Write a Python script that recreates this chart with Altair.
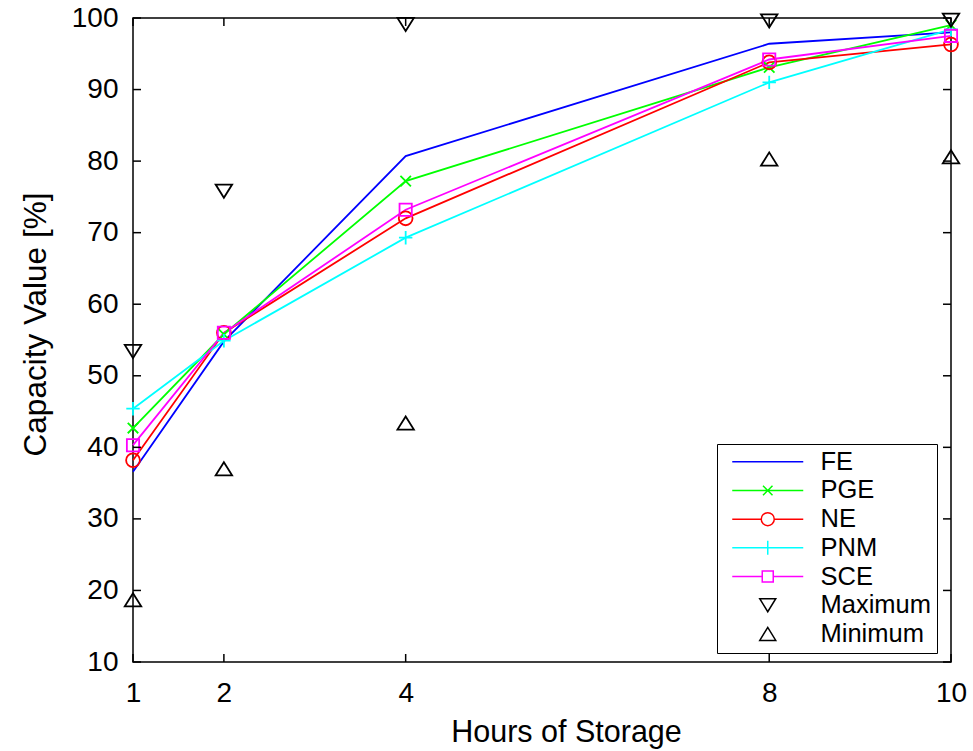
import altair as alt
import pandas as pd

# ---- data ----
hours = [1, 2, 4, 8, 10]
fe = [36.6, 54.8, 80.7, 96.4, 98.0]
pge = [42.7, 55.8, 77.2, 93.1, 99.0]
ne = [38.2, 56.0, 72.0, 93.8, 96.3]
pnm = [45.4, 54.9, 69.3, 91.0, 98.4]
sce = [40.3, 56.0, 73.2, 94.2, 97.5]
vmax = [53.4, 75.8, 99.1, 99.6, 99.7]
vmin = [18.7, 37.0, 43.4, 80.3, 80.6]

line_names = ["FE", "PGE", "NE", "PNM", "SCE"]
legend_names = line_names + ["Maximum", "Minimum"]
colors = ["#0000FF", "#00FF00", "#FF0000", "#00FFFF", "#FF00FF", "#000000", "#000000"]
x_ticks = [1, 2, 4, 8, 10]
y_ticks = [10, 20, 30, 40, 50, 60, 70, 80, 90, 100]

rows = []
for name, vals in zip(legend_names, [fe, pge, ne, pnm, sce, vmax, vmin]):
    for h, v in zip(hours, vals):
        rows.append({"hours": h, "value": v, "series": name})
df = pd.DataFrame(rows)
color_of = dict(zip(legend_names, colors))

W, H = 818, 644
FONT = "Liberation Sans"
LW = 1.8

xscale = alt.Scale(domain=[1, 10], nice=False, zero=False)
yscale = alt.Scale(domain=[10, 100], nice=False, zero=False)

x_axis = alt.Axis(values=x_ticks, title="Hours of Storage", grid=False, ticks=False,
                  domain=False, labelFontSize=28, labelPadding=17, labelFlush=False,
                  labelColor="black", titleColor="black", titleFontSize=30.5,
                  titleFontWeight="normal", titleX=433, titleY=79,
                  titleBaseline="alphabetic", format="d")
y_axis = alt.Axis(values=y_ticks, title="Capacity Value [%]", grid=False, ticks=False,
                  domain=False, labelFontSize=28, labelPadding=15, labelFlush=False,
                  labelColor="black", titleColor="black", titleFontSize=31.5,
                  titleFontWeight="normal", titleX=-88, titleY=306,
                  titleBaseline="alphabetic", format="d")

X = alt.X("hours:Q", scale=xscale, axis=x_axis)
Y = alt.Y("value:Q", scale=yscale, axis=y_axis)

base = alt.Chart(df)

lines = [
    base.transform_filter(alt.datum.series == name).mark_line(
        strokeWidth=LW, color=color_of[name]).encode(x=X, y=Y)
    for name in line_names
]

P_X = "M-1,-1L1,1M-1,1L1,-1"
P_PLUS = "M-1,0L1,0M0,-1L0,1"
P_DOWN = "M-1,-0.8L1,-0.8L0,0.8Z"
P_UP = "M-1,0.8L1,0.8L0,-0.8Z"


def marker(name, shape, size):
    return base.transform_filter(alt.datum.series == name).mark_point(
        shape=shape, size=size, filled=False, strokeWidth=LW, opacity=1,
        color=color_of[name]
    ).encode(x=X, y=Y)


markers = [
    marker("PGE", P_X, 110),
    marker("NE", "circle", 190),
    marker("PNM", P_PLUS, 180),
    marker("SCE", "square", 150),
    marker("Maximum", P_DOWN, 270),
    marker("Minimum", P_UP, 270),
]

# legend symbols: 1 path unit = 10 px (symbol size 400); line sample is 71 px long
legend_paths = [
    "M-3.55,0L3.55,0",
    "M-3.55,0L3.55,0M-0.475,-0.475L0.475,0.475M-0.475,0.475L0.475,-0.475",
    "M-3.55,0L-0.65,0A0.65,0.65,0,1,1,0.65,0A0.65,0.65,0,1,1,-0.65,0M0.65,0L3.55,0",
    "M-3.55,0L3.55,0M0,-0.7L0,0.7",
    "M-3.55,0L-0.55,0M0.55,0L3.55,0M-0.55,-0.55L0.55,-0.55L0.55,0.55L-0.55,0.55Z",
    "M-0.8,-0.65L0.8,-0.65L0,0.65Z",
    "M-0.8,0.65L0.8,0.65L0,-0.65Z",
]
SYM = 400
leg = dict(title=None, orient="none", legendX=584, legendY=426, symbolSize=SYM,
           symbolStrokeWidth=1.5, symbolOpacity=1, labelFontSize=25.5, labelFont=FONT,
           labelColor="black", padding=5, symbolOffset=33, labelOffset=40, rowPadding=1.7,
           strokeColor="black", fillColor="white", cornerRadius=0, labelLimit=0)

legend_layer = base.mark_point(opacity=0, filled=False, size=SYM, strokeWidth=1.5).encode(
    x=X, y=Y,
    color=alt.Color("series:N", scale=alt.Scale(domain=legend_names, range=colors),
                    legend=alt.Legend(**leg)),
    shape=alt.Shape("series:N", scale=alt.Scale(domain=legend_names, range=legend_paths),
                    legend=alt.Legend(**leg)),
)

# inward ticks on all four sides
ytdf = pd.DataFrame({"value": y_ticks})
xtdf = pd.DataFrame({"hours": x_ticks})
TL = 8
tick_style = dict(color="black", strokeWidth=1.5)
left_t = alt.Chart(ytdf).mark_rule(**tick_style).encode(
    y=Y, x=alt.value(0), x2=alt.value(TL))
right_t = alt.Chart(ytdf).mark_rule(**tick_style).encode(
    y=Y, x=alt.value(W - TL), x2=alt.value(W))
bottom_t = alt.Chart(xtdf).mark_rule(**tick_style).encode(
    x=X, y=alt.value(H - TL), y2=alt.value(H))
top_t = alt.Chart(xtdf).mark_rule(**tick_style).encode(
    x=X, y=alt.value(0), y2=alt.value(TL))

chart = alt.layer(
    *lines, *markers, legend_layer, left_t, right_t, bottom_t, top_t
).properties(
    width=W, height=H,
    autosize=alt.AutoSizeParams(type="none"),
    padding={"left": 133, "top": 18, "right": 22, "bottom": 89},
    background="white",
).configure(font=FONT).configure_view(stroke="black", strokeWidth=1.5)

chart.save("out.html", embed_options={"renderer": "svg", "actions": False})
